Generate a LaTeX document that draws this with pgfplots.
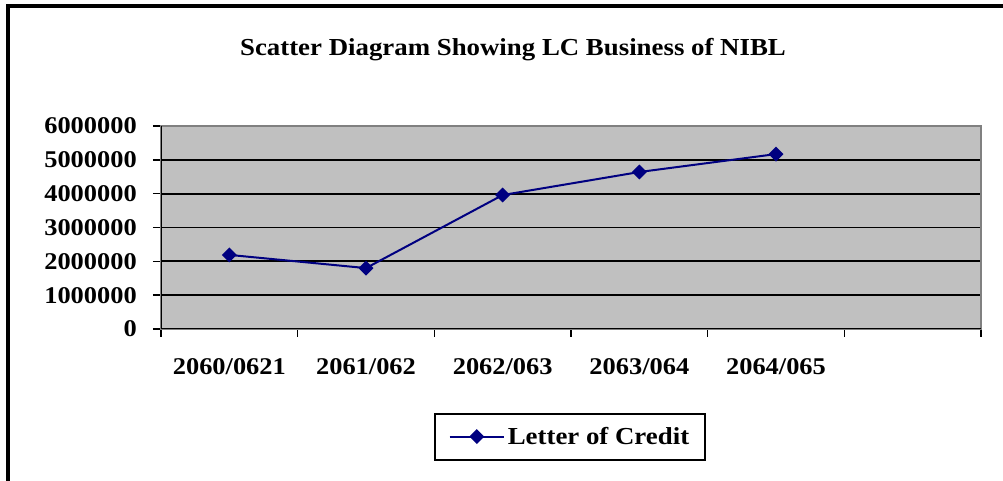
\documentclass[border=0pt]{standalone}
\usepackage{pgfplots}
\pgfplotsset{compat=1.18}
\usepackage{fontspec}
\setmainfont{Liberation Serif}[FakeStretch=1.1]
\definecolor{navy}{HTML}{000080}
\definecolor{plotgray}{HTML}{C0C0C0}
\definecolor{bordergray}{HTML}{808080}
\begin{document}
\begin{tikzpicture}
\useasboundingbox (0,0) rectangle (752.25pt,360.75pt);
\draw[line width=3pt] (6pt,-5pt) -- (6pt,356.25pt) -- (760pt,356.25pt);
\node[font=\fontsize{18.3}{22}\selectfont\bfseries, anchor=base, inner sep=0pt] at (384.75pt,318.75pt) {Scatter Diagram Showing LC Business of NIBL};
\begin{axis}[
  at={(120.75pt,114pt)}, anchor=south west,
  scale only axis, width=615pt, height=152.25pt,
  xmin=-0.5, xmax=5.5, ymin=0, ymax=6000000,
  xtick={-0.5,0.5,1.5,2.5,3.5,4.5,5.5},
  x tick label as interval,
  xticklabels={2060/0621,2061/062,2062/063,2063/064,2064/065,{}},
  ytick={0,1000000,2000000,3000000,4000000,5000000,6000000},
  yticklabels={0,1000000,2000000,3000000,4000000,5000000,6000000},
  scaled y ticks=false,
  xtick pos=bottom, ytick pos=left,
  tick align=outside, major tick length=6pt,
  tick style={black, line width=1.2pt},
  ymajorgrids, major grid style={black, line width=1.3pt},
  axis line style={bordergray, line width=1.5pt},
  axis background/.style={fill=plotgray},
  ticklabel style={font=\fontsize{18}{20}\selectfont\bfseries},
  yticklabel style={inner sep=0pt, anchor=east, xshift=-12pt},
  xticklabel style={inner sep=0pt, anchor=north, yshift=-16pt},
  legend style={at={(0.499,-0.53)}, anchor=center, draw=black, line width=1.5pt,
    font=\fontsize{18.3}{22}\selectfont\bfseries, inner xsep=10pt, inner ysep=8pt},
  legend image code/.code={\draw[#1, mark repeat=2, mark phase=2] plot coordinates {(0pt,0pt) (20.5pt,0pt) (41pt,0pt)};},
]
\addplot[navy, line width=1.5pt, mark=square*, mark size=3.2pt, mark options={rotate=45, solid}]
  coordinates {(0,2190000) (1,1800000) (2,3960000) (3,4640000) (4,5170000)};
\addlegendentry{Letter of Credit}
\draw[bordergray, line width=1.5pt] (rel axis cs:0,1) -- (rel axis cs:1,1) -- (rel axis cs:1,0);
\draw[black, line width=1.5pt] (rel axis cs:0,1) -- (rel axis cs:0,0) -- (rel axis cs:1,0);
\end{axis}
\end{tikzpicture}
\end{document}
